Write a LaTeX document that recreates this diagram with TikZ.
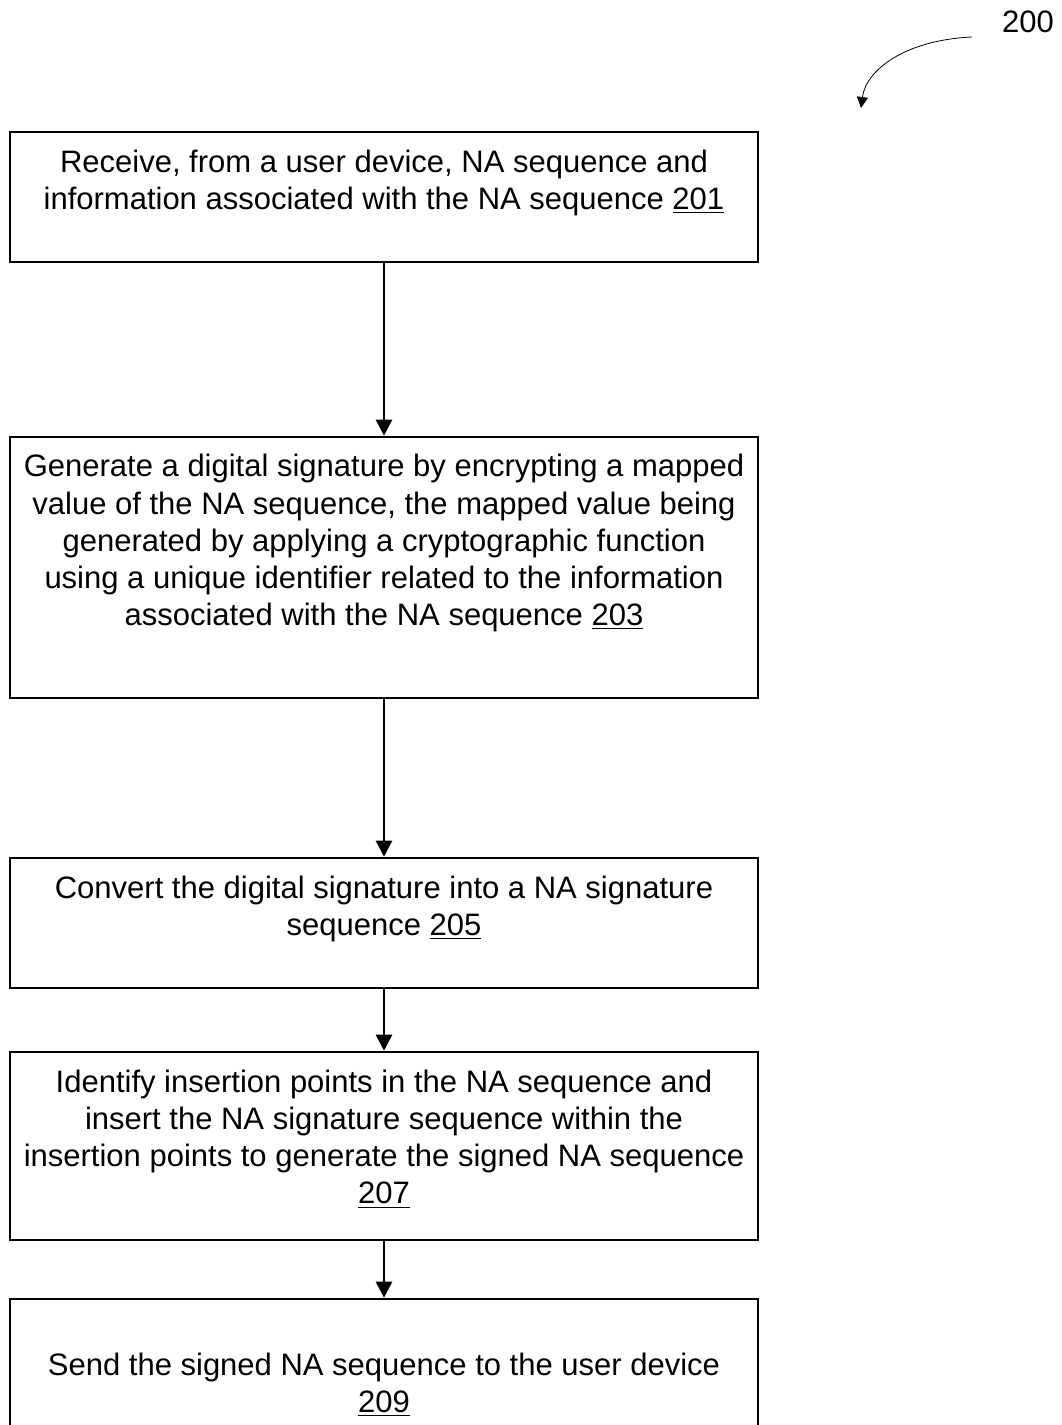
\documentclass[tikz,border=0pt]{standalone}
\usepackage{fontspec}
\setmainfont{Liberation Sans}
\usetikzlibrary{arrows.meta}
\usetikzlibrary{positioning}

\tikzset{
  stepbox/.style={draw, line width=1.3pt, minimum width=374pt, inner sep=0pt},
  steptext/.style={anchor=north, inner sep=0pt, align=center,
    font=\fontsize{15.5}{18.6}\selectfont},
  flow/.style={line width=1.4pt, -{Triangle[width=8pt,length=8pt]}}
}

\begin{document}
\begin{tikzpicture}[x=0.5pt, y=-0.5pt]
        \useasboundingbox (0,0) rectangle (1061,1425);
        \clip (0,0) rectangle (1061,1425);

        % Boxes
        \node[stepbox, minimum height=65pt]    (b1) at (384,197)    {};
        \node[stepbox, minimum height=130.5pt] (b2) at (384,567.5)  {};
        \node[stepbox, minimum height=65pt]    (b3) at (384,923)    {};
        \node[stepbox, minimum height=94pt]    (b4) at (384,1146)   {};
        \node[stepbox, minimum height=75pt]    (b5) at (384,1374)   {};

        % Texts
        \node[steptext] (t1) at ([yshift=-9.4pt]b1.north)
            {Receive, from a user device, NA sequence and\\
             information associated with the NA sequence \underline{201}};
        \node[steptext] (t2) at ([yshift=-9.2pt]b2.north)
            {Generate a digital signature by encrypting a mapped\\
             value of the NA sequence, the mapped value being\\
             generated by applying a cryptographic function\\
             using a unique identifier related to the information\\
             associated with the NA sequence \underline{203}};
        \node[steptext] (t3) at ([yshift=-9.4pt]b3.north)
            {Convert the digital signature into a NA signature\\
             sequence \underline{205}};
        \node[steptext] (t4) at ([yshift=-9.4pt]b4.north)
            {Identify insertion points in the NA sequence and\\
             insert the NA signature sequence within the\\
             insertion points to generate the signed NA sequence\\
             \underline{207}};
        \node[steptext] (t5) at ([yshift=-27.4pt]b5.north)
            {Send the signed NA sequence to the user device\\
             \underline{209}};

        % Connectors
        \draw[flow] (b1.south) -- (b2.north);
        \draw[flow] (b2.south) -- (b3.north);
        \draw[flow] (b3.south) -- (b4.north);
        \draw[flow] (b4.south) -- (b5.north);

        % Figure label
        \node[font=\fontsize{15.5}{18}\selectfont, inner sep=0pt] (lbl) at (1028,22) {200};
        \coordinate (c0) at (972,37);
        \coordinate (c1) at (861,108);
        \draw[line width=0.4pt, -{Triangle[width=5.5pt,length=5.5pt]}]
            (c0) .. controls (905,40) and (866,70) .. (c1);
    \end{tikzpicture}
\end{document}
